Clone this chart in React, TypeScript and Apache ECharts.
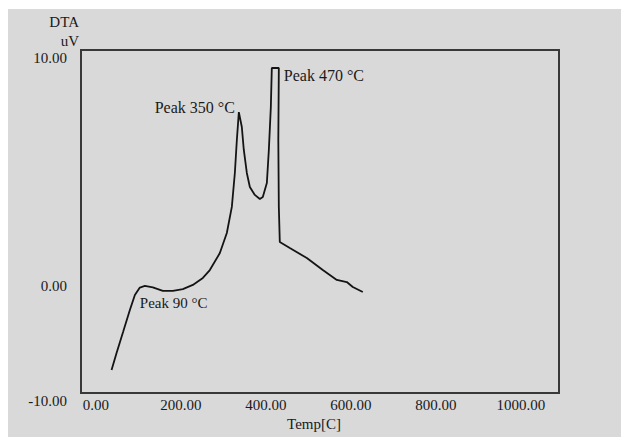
import React, { useEffect, useRef } from "react";
import * as echarts from "echarts";

// Temperature (°C)
const tempC = [
  36.9, 48.7, 64.2, 80, 91.8, 103.5, 115.3, 134.1, 157.6, 181.2, 204.7, 228.2,
  251.8, 268.2, 291.8, 308.2, 320, 327.1, 331.8, 336.5, 343.5, 348.2, 355.3,
  362.4, 374.1, 385.9, 392.9, 402.4, 407.1, 411.8, 414.1, 430.6, 429.4, 430.6,
  432.9, 456.5, 496.5, 534.1, 567.1, 590.6, 604.7, 628.2,
];
// DTA signal (uV)
const dtaUV = [
  -8.66, -7.67, -6.43, -5.16, -4.29, -3.85, -3.76, -3.84, -4.04, -4.05, -3.94,
  -3.7, -3.29, -2.83, -1.84, -0.67, 0.85, 2.83, 4.75, 6.38, 5.51, 4.17, 2.83,
  2.01, 1.55, 1.31, 1.43, 2.24, 4.17, 6.68, 8.95, 8.95, 4.75, 0.85, -1.2, -1.55,
  -2.13, -2.83, -3.41, -3.53, -3.82, -4.11,
];

const xTickValues = [0, 200, 400, 600, 800, 1000];
const yTickValues = [10, -3.3, -10];
const yTickLabels = ["10.00", "0.00", "-10.00"];
const yAxisTitle = ["DTA", "uV"];

const peakNames = ["Peak 90 °C", "Peak 350 °C", "Peak 470 °C"];
const peakTemp = [103.5, 336.5, 430.6];
const peakDTA = [-3.85, 6.38, 8.95];

const FONT = "'Liberation Serif', 'Times New Roman', serif";
const INK = "#1a1a1a";

export default function App() {
  const ref = useRef<HTMLDivElement>(null);
  useEffect(() => {
    if (!ref.current) return;
    const chart = echarts.init(ref.current, undefined, { renderer: "svg" });
    const peakLabelStyles = [
      { align: "left", offset: [0, 15.5] },
      { align: "right", offset: [-4, -5] },
      { align: "left", offset: [5, 7] },
    ];
    chart.setOption({
      animation: false,
      backgroundColor: "#d9d9d9",
      textStyle: { fontFamily: FONT, color: INK },
      grid: {
        left: 73,
        right: 62,
        top: 41,
        bottom: 44,
        show: true,
        borderColor: "#383838",
        borderWidth: 2,
        backgroundColor: "transparent",
      },
      graphic: [
        {
          type: "text",
          x: 71,
          y: 3.5,
          style: {
            text: yAxisTitle.join("\n"),
            align: "right",
            verticalAlign: "top",
            lineHeight: 19,
            font: `15px ${FONT}`,
            fill: INK,
          },
        },
      ],
      xAxis: {
        type: "value",
        min: -35,
        max: 1090,
        name: "Temp[C]",
        nameLocation: "middle",
        nameGap: 22,
        nameTextStyle: { fontFamily: FONT, fontSize: 15, color: INK, padding: [0, 12, 0, 0] },
        axisLine: { show: false },
        axisTick: { show: false },
        splitLine: { show: false },
        axisLabel: {
          customValues: xTickValues,
          formatter: (v: number) => v.toFixed(2),
          fontFamily: FONT,
          fontSize: 15,
          color: INK,
          margin: 4,
        },
      },
      yAxis: {
        type: "value",
        min: -10,
        max: 10,
        axisLine: { show: false },
        axisTick: { show: false },
        splitLine: { show: false },
        axisLabel: {
          customValues: yTickValues,
          formatter: (v: number) => {
            let best = 0;
            yTickValues.forEach((t, i) => {
              if (Math.abs(t - v) < Math.abs(yTickValues[best] - v)) best = i;
            });
            return yTickLabels[best];
          },
          fontFamily: FONT,
          fontSize: 15,
          color: INK,
          margin: 14,
          verticalAlign: "top",
        },
      },
      series: [
        {
          type: "line",
          data: tempC.map((t, i) => [t, dtaUV[i]]),
          showSymbol: false,
          symbol: "none",
          lineStyle: { color: "#141414", width: 1.8 },
          markPoint: {
            symbol: "circle",
            symbolSize: 0,
            data: peakNames.map((n, i) => ({
              name: n,
              coord: [peakTemp[i], peakDTA[i]],
              label: {
                show: true,
                formatter: n,
                position: "inside",
                align: peakLabelStyles[i].align,
                verticalAlign: "middle",
                offset: peakLabelStyles[i].offset,
                fontFamily: FONT,
                fontSize: i === 0 ? 15 : 16,
                color: INK,
              },
            })),
          },
        },
      ],
    });
    return () => chart.dispose();
  }, []);
  return (
    <div
      ref={ref}
      style={{ position: "absolute", left: 8, top: 9, width: 613, height: 428 }}
    />
  );
}
